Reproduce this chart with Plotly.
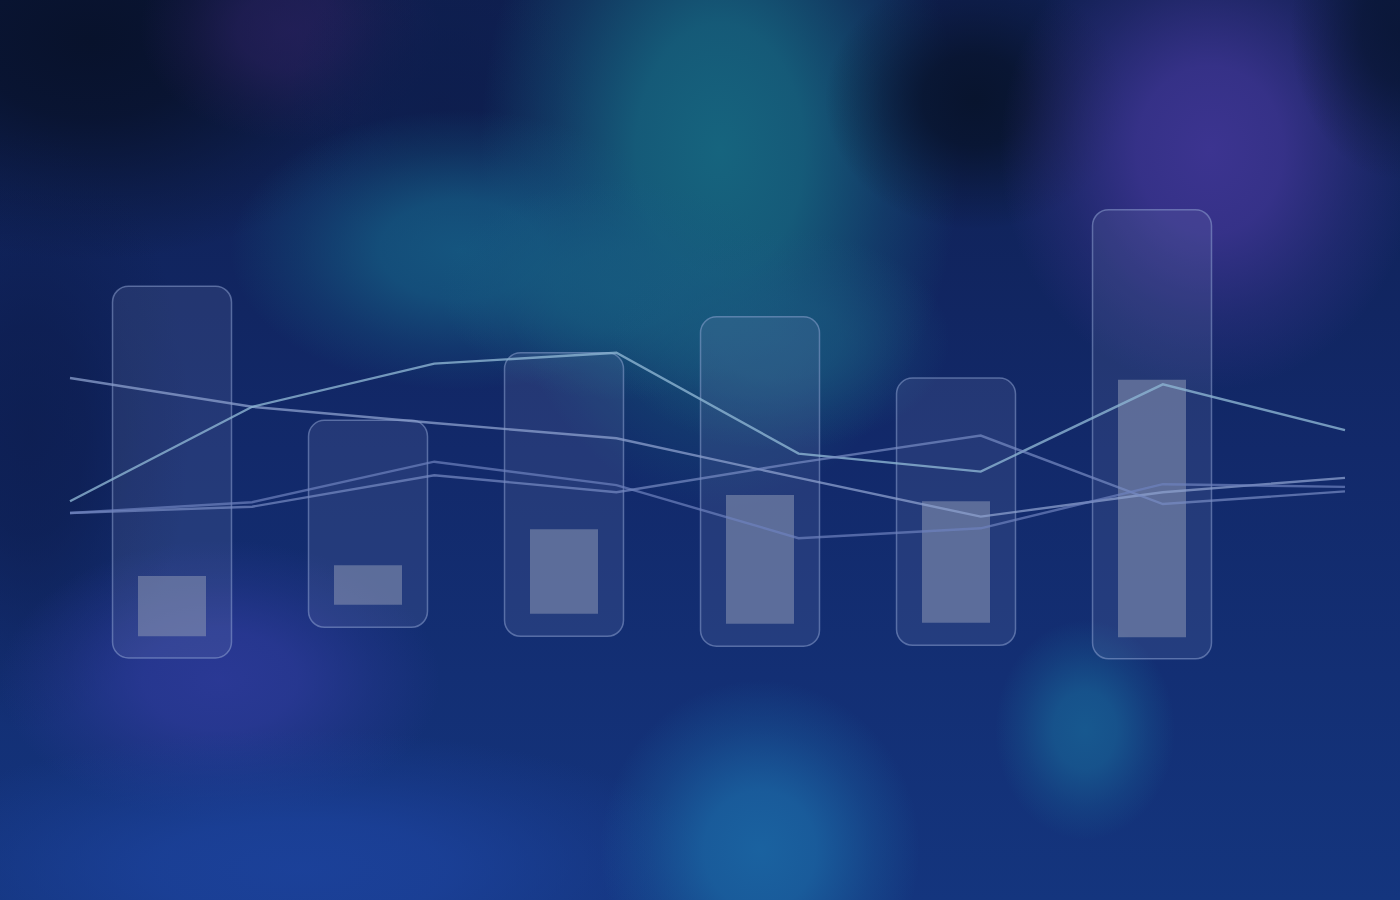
import base64
import plotly.graph_objects as go

# ---------------- data ----------------
categories = ["A", "B", "C", "D", "E", "F"]
range_low = [26.9, 30.3, 29.3, 28.2, 28.3, 26.8]
range_high = [68.2, 53.3, 60.8, 64.8, 58.0, 76.7]
core_low = [29.3, 32.8, 31.8, 30.7, 30.8, 29.2]
core_high = [36.0, 37.2, 41.2, 45.0, 44.3, 57.8]

line_x = [0, 1, 2, 3, 4, 5, 6, 7]
series_a = [58.0, 54.8, 53.0, 51.3, 46.9, 42.6, 45.3, 46.9]
series_b = [44.3, 54.8, 59.6, 60.8, 49.6, 47.6, 57.3, 52.2]
series_c = [43.0, 43.7, 47.2, 45.3, 48.6, 51.6, 44.0, 45.4]
series_d = [43.0, 44.2, 48.7, 46.1, 40.2, 41.3, 46.2, 45.9]

# ---------------- background (soft colour glows) ----------------
blobs = [
    # cx, cy, rx, ry, color, opacity
    (90, 40, 330, 220, "#08122c", 1.0),
    (30, 430, 160, 300, "#0c1b4a", 0.7),
    (290, 30, 150, 110, "#2a2160", 0.7),
    (440, 100, 150, 150, "#0d1d4c", 0.8),
    (720, 150, 240, 360, "#16647e", 1.0),
    (460, 250, 230, 140, "#155a82", 0.9),
    (620, 290, 180, 110, "#175c80", 0.8),
    (780, 340, 170, 110, "#1a5a80", 0.7),
    (975, 100, 150, 130, "#08142e", 1.0),
    (1210, 150, 210, 240, "#3c3490", 1.0),
    (1400, 30, 110, 150, "#0a1636", 0.9),
    (220, 680, 220, 140, "#2e3a9a", 0.85),
    (300, 870, 420, 140, "#1c429c", 0.9),
    (760, 850, 160, 170, "#1a62a0", 1.0),
    (1085, 730, 90, 110, "#17588f", 1.0),
]
defs = []
shapes_svg = []
for i, (cx, cy, rx, ry, c, o) in enumerate(blobs):
    defs.append(
        f'<radialGradient id="r{i}" cx="0.5" cy="0.5" r="0.5">'
        f'<stop offset="0" stop-color="{c}" stop-opacity="{o}"/>'
        f'<stop offset="0.35" stop-color="{c}" stop-opacity="{o * 0.85:.3f}"/>'
        f'<stop offset="0.7" stop-color="{c}" stop-opacity="{o * 0.35:.3f}"/>'
        f'<stop offset="1" stop-color="{c}" stop-opacity="0"/></radialGradient>'
    )
    shapes_svg.append(f'<ellipse cx="{cx}" cy="{cy}" rx="{rx}" ry="{ry}" fill="url(#r{i})"/>')
svg = (
    '<svg xmlns="http://www.w3.org/2000/svg" width="1400" height="900" viewBox="0 0 1400 900">'
    '<defs><linearGradient id="g" x1="0" y1="0" x2="0" y2="1">'
    '<stop offset="0" stop-color="#0f1f50"/><stop offset="0.5" stop-color="#12296a"/>'
    '<stop offset="1" stop-color="#14357e"/></linearGradient>' + "".join(defs) + '</defs>'
    '<rect width="1400" height="900" fill="url(#g)"/>' + "".join(shapes_svg) + '</svg>'
)
bg_src = "data:image/svg+xml;base64," + base64.b64encode(svg.encode()).decode()

# ---------------- figure ----------------
bar_pos = list(range(len(categories)))

fig = go.Figure()
fig.add_trace(go.Bar(
    x=bar_pos, y=[h - l for l, h in zip(range_low, range_high)], base=range_low,
    width=0.607, text=categories, hoverinfo="text", textposition="none",
    marker=dict(color="rgba(130,145,190,0.16)", cornerradius=16,
                line=dict(color="rgba(150,170,215,0.5)", width=1.5)),
))
fig.add_trace(go.Bar(
    x=bar_pos, y=[h - l for l, h in zip(core_low, core_high)], base=core_low,
    width=0.347, text=categories, hoverinfo="text", textposition="none",
    marker=dict(color="rgba(138,148,178,0.56)", line=dict(width=0)),
))

line_styles = [
    (series_a, "rgba(140,160,205,0.75)"),
    (series_b, "rgba(140,180,210,0.8)"),
    (series_c, "rgba(120,140,195,0.7)"),
    (series_d, "rgba(110,130,190,0.7)"),
]
for ys, col in line_styles:
    fig.add_trace(go.Scatter(x=line_x, y=ys, xaxis="x2", mode="lines",
                             line=dict(color=col, width=2.4)))

fig.update_layout(
    width=1400, height=900,
    margin=dict(l=0, r=0, t=0, b=0),
    paper_bgcolor="#112a68", plot_bgcolor="rgba(0,0,0,0)",
    showlegend=False, barmode="overlay",
    xaxis=dict(range=[-0.8776, 6.2653], visible=False, fixedrange=True),
    xaxis2=dict(range=[-0.3843, 7.302], overlaying="x", visible=False),
    yaxis=dict(range=[0, 100], visible=False),
    images=[dict(source=bg_src, xref="paper", yref="paper", x=0, y=1,
                 sizex=1, sizey=1, sizing="stretch", layer="below", xanchor="left", yanchor="top")],
)

fig.write_html("out.html", config={"displayModeBar": False},
               post_script="document.body.style.margin='0';document.body.style.background='#112a68';")
